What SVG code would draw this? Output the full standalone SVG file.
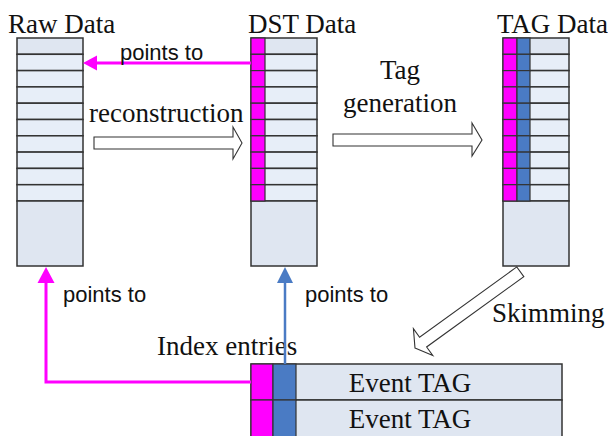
<svg xmlns="http://www.w3.org/2000/svg" width="608" height="436" viewBox="0 0 608 436">
<style>
.t{font-family:"Liberation Serif","Times New Roman",serif;font-size:27px;fill:#111}
.s{font-family:"Liberation Sans",Arial,sans-serif;font-size:22px;fill:#111}
.cell{fill:#e7eef8;stroke:#333;stroke-width:1.5}
.hd{fill:#dfe6f1;stroke:#333;stroke-width:1.5}
.mg{fill:#ff00ff;stroke:#333;stroke-width:1.2}
.bl{fill:#4a7bc4;stroke:#333;stroke-width:1.2}
.hollow{fill:#fff;stroke:#333;stroke-width:1.1}
</style>
<defs>
<g id="rows">
<rect class="hd" x="0" y="0" width="66" height="16.3"/>
<rect class="cell" x="0" y="16.3" width="66" height="16.3"/>
<rect class="cell" x="0" y="32.6" width="66" height="16.3"/>
<rect class="cell" x="0" y="48.9" width="66" height="16.3"/>
<rect class="cell" x="0" y="65.2" width="66" height="16.3"/>
<rect class="cell" x="0" y="81.5" width="66" height="16.3"/>
<rect class="cell" x="0" y="97.8" width="66" height="16.3"/>
<rect class="cell" x="0" y="114.1" width="66" height="16.3"/>
<rect class="cell" x="0" y="130.4" width="66" height="16.3"/>
<rect class="cell" x="0" y="146.7" width="66" height="16.3"/>
<rect class="hd" x="0" y="163" width="66" height="65"/>
</g>
<g id="mcol">
<rect class="mg" x="0" y="0" width="14" height="16.3"/>
<rect class="mg" x="0" y="16.3" width="14" height="16.3"/>
<rect class="mg" x="0" y="32.6" width="14" height="16.3"/>
<rect class="mg" x="0" y="48.9" width="14" height="16.3"/>
<rect class="mg" x="0" y="65.2" width="14" height="16.3"/>
<rect class="mg" x="0" y="81.5" width="14" height="16.3"/>
<rect class="mg" x="0" y="97.8" width="14" height="16.3"/>
<rect class="mg" x="0" y="114.1" width="14" height="16.3"/>
<rect class="mg" x="0" y="130.4" width="14" height="16.3"/>
<rect class="mg" x="0" y="146.7" width="14" height="16.3"/>
</g>
<g id="bcol">
<rect class="bl" x="0" y="0" width="13" height="16.3"/>
<rect class="bl" x="0" y="16.3" width="13" height="16.3"/>
<rect class="bl" x="0" y="32.6" width="13" height="16.3"/>
<rect class="bl" x="0" y="48.9" width="13" height="16.3"/>
<rect class="bl" x="0" y="65.2" width="13" height="16.3"/>
<rect class="bl" x="0" y="81.5" width="13" height="16.3"/>
<rect class="bl" x="0" y="97.8" width="13" height="16.3"/>
<rect class="bl" x="0" y="114.1" width="13" height="16.3"/>
<rect class="bl" x="0" y="130.4" width="13" height="16.3"/>
<rect class="bl" x="0" y="146.7" width="13" height="16.3"/>
</g>
</defs>

<g id="raw">
<text class="t" x="8" y="33">Raw Data</text>
<use href="#rows" x="17" y="38"/>
</g>

<g id="dst">
<text class="t" x="248" y="33">DST Data</text>
<use href="#rows" x="251" y="38"/>
<use href="#mcol" x="251" y="38"/>
</g>

<g id="tag">
<text class="t" x="497" y="33">TAG Data</text>
<use href="#rows" x="503" y="38"/>
<use href="#mcol" x="503" y="38"/>
<use href="#bcol" x="517" y="38"/>
</g>

<g id="index">
<text class="t" x="157" y="355">Index entries</text>
<rect class="hd" x="251" y="364" width="311" height="36"/>
<rect class="hd" x="251" y="400" width="311" height="40"/>
<rect class="mg" x="251" y="364" width="22" height="36"/>
<rect class="mg" x="251" y="400" width="22" height="40"/>
<rect class="bl" x="273" y="364" width="23" height="36"/>
<rect class="bl" x="273" y="400" width="23" height="40"/>
<text class="t" x="410" y="392" text-anchor="middle">Event TAG</text>
<text class="t" x="410" y="428" text-anchor="middle">Event TAG</text>
</g>

<g id="connectors">
<line x1="251" y1="63" x2="95" y2="63" stroke="#ff00ff" stroke-width="3"/>
<polygon points="83,63 97,55.5 97,70.5" fill="#ff00ff"/>
<text class="s" x="120" y="60">points to</text>

<polygon class="hollow" points="94,137 233,137 233,127 242,143 233,159 233,149 94,149"/>
<text class="t" x="89" y="122">reconstruction</text>

<polygon class="hollow" points="333,134 472,134 472,123 482,140 472,156 472,146 333,146"/>
<text class="t" x="400" y="79" text-anchor="middle">Tag</text>
<text class="t" x="400" y="112" text-anchor="middle">generation</text>

<polygon class="hollow" transform="translate(415,348) rotate(144.1)" points="0,0 -10,-16.5 -10,-6 -130,-6 -130,6 -10,6 -10,16.5" />
<text class="t" x="492" y="322">Skimming</text>

<polyline points="251,382 46,382 46,281" fill="none" stroke="#ff00ff" stroke-width="3"/>
<polygon points="46,267 37.5,283 54.5,283" fill="#ff00ff"/>
<text class="s" x="63" y="302">points to</text>

<line x1="285" y1="364" x2="285" y2="281" stroke="#4a7bc4" stroke-width="2.5"/>
<polygon points="285,267 277,283 293,283" fill="#4a7bc4"/>
<text class="s" x="305" y="302">points to</text>
</g>
</svg>
